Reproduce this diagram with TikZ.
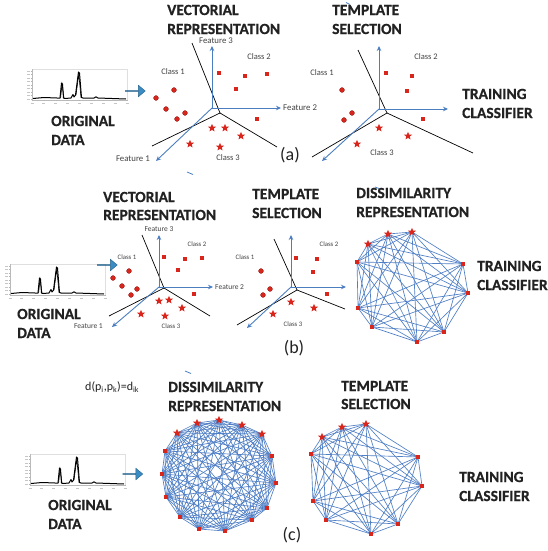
\documentclass[tikz,border=0pt]{standalone}
\usepackage{fontspec}
\setmainfont{Carlito}
\newfontfamily\headfont[FakeBold=0.6]{Carlito Bold}
\usetikzlibrary{shapes.geometric,shapes.arrows,arrows.meta}

\definecolor{mred}{HTML}{D9261C}
\definecolor{axblue}{HTML}{4A7EC0}
\definecolor{edgeblue}{HTML}{4F7FC6}
\definecolor{arrfill}{HTML}{3A8CC4}
\definecolor{ink}{HTML}{222222}

\tikzset{
  head/.style={font=\fontsize{15.5}{15.5}\selectfont\headfont, text=ink, anchor=west, inner sep=0pt},
  clsA/.style={font=\fontsize{8.5}{9}\selectfont, text=ink!85, inner sep=0pt},
  clsB/.style={font=\fontsize{6.8}{7}\selectfont, text=ink!85, inner sep=0pt},
  featA/.style={font=\fontsize{8.8}{9}\selectfont, text=ink!85, inner sep=0pt},
  featB/.style={font=\fontsize{7.5}{8}\selectfont, text=ink!85, inner sep=0pt},
  panel/.style={font=\fontsize{18}{18}\selectfont, text=ink, inner sep=0pt},
  circ/.style={circle, fill=mred, draw=mred!70!black, line width=0.4pt, inner sep=0pt, minimum size=4.8pt},
  sqr/.style={rectangle, fill=mred, inner sep=0pt, minimum size=4.8pt},
  str/.style={star, star points=5, star point ratio=2.3, fill=mred, inner sep=0pt, minimum size=8.5pt},
  axisline/.style={axblue, line width=0.9pt, -{Stealth[length=5pt,width=4.5pt]}},
  bound/.style={black, line width=0.7pt},
  edge/.style={edgeblue, line width=0.65pt},
  stray/.style={axblue, line width=0.8pt},
  fatarrow/.style={single arrow, single arrow tip angle=80, single arrow head extend=2.6pt,
    minimum width=11.5pt, minimum height=20pt, inner sep=0pt, fill=arrfill, draw=arrfill!70!black, line width=0.4pt},
  spectrum/.pic={
    % faint frame, axes and ticks of the small plot
    \draw[gray!25, line width=0.4pt] (0,0) rectangle (95,31);
    \draw[gray!55, line width=0.4pt] (0,0) -- (0,31) -- (95,31);
    \foreach \t in {2,5.5,...,30} {
      \draw[gray!60, line width=0.3pt] (-1.2,\t) -- (0,\t);
      \draw[gray!45, line width=0.5pt] (-5,\t) -- (-2.5,\t);
    }
    \foreach \t in {0,11.875,...,95} {
      \draw[gray!60, line width=0.3pt] (\t,31) -- (\t,32.2);
      \draw[gray!45, line width=0.5pt] (\t-1.5,34) -- (\t+1.5,34);
    }
    % signal
    \draw[black, line width=1pt, line join=round]
      (1,29.5) -- (12,28.5) -- (25,29) -- (28,29) -- (29.5,14) -- (30.5,15) -- (31.5,29)
      -- (33,29.5) -- (39,29) -- (41,25.5) -- (42,28) -- (43.5,26) -- (46.5,3) -- (47.5,4)
      -- (49.5,28.5) -- (51,29) -- (62,29) -- (64,27.8) -- (66,29) -- (94,30);
    \draw[black, line width=0.6pt] (28.6,29) -- (30,15) -- (32,29);
    \draw[black, line width=0.6pt] (44,26) -- (46.8,5) -- (49,28.5);
  }
}

\begin{document}
\begin{tikzpicture}[x=1pt,y=-1pt]
\useasboundingbox[fill=white] (0,0) rectangle (547,551);

%================ (a) ================
\pic at (32,69) {spectrum};
\node[fatarrow] (arrA) at (135,91) {};
\node[head] (origA1) at (51,121) {ORIGINAL};
\node[head] (origA2) at (51,140) {DATA};
\node[head] (vecA1) at (167,10) {VECTORIAL};
\node[head] (vecA2) at (167,29) {REPRESENTATION};

% feature space
\coordinate (oA) at (212,108);
\coordinate (f3A) at (212,46);
\coordinate (f2A) at (281,108);
\coordinate (f1A) at (156,161);
\coordinate (jA) at (220,113);
\coordinate (btA) at (192,43);
\coordinate (blA) at (152,146);
\coordinate (brA) at (277,147);
\draw[bound] (jA) -- (btA);
\draw[bound] (jA) -- (blA);
\draw[bound] (jA) -- (brA);
\draw[axisline] (oA) -- (f3A);
\draw[axisline] (oA) -- (f2A);
\draw[axisline] (oA) -- (f1A);
\node[featA] (lf3A) at (216,41) {Feature 3};
\node[featA, anchor=west] (lf2A) at (283,108) {Feature 2};
\node[featA, anchor=east] (lf1A) at (150,159) {Feature 1};
\node[clsA] (c1A) at (173,72) {Class 1};
\node[clsA] (c2A) at (259,57) {Class 2};
\node[clsA] (c3A) at (228,158) {Class 3};
\foreach \x/\y [count=\i] in {174/90,156/98,166/109,185/113,177/119}
  \node[circ] (pcA\i) at (\x,\y) {};
\foreach \x/\y [count=\i] in {219/73,245/76,267/74,236/89,257/119}
  \node[sqr] (psA\i) at (\x,\y) {};
\foreach \x/\y [count=\i] in {212/128,225/128,241/136,190/144,220/147}
  \node[str] (ptA\i) at (\x,\y) {};
\node[panel] (labA) at (290,155) {(a)};

% selected templates
\node[head] (tplA1) at (332,10) {TEMPLATE};
\node[head] (tplA2) at (332,29) {SELECTION};
\coordinate (oA2) at (379,109);
\coordinate (f3A2) at (379,46);
\coordinate (f2A2) at (448,109);
\coordinate (f1A2) at (322,161);
\coordinate (jA2) at (387,113);
\coordinate (btA2) at (358,50);
\coordinate (blA2) at (312,157);
\coordinate (brA2) at (473,153);
\draw[bound] (jA2) -- (btA2);
\draw[bound] (jA2) -- (blA2);
\draw[bound] (jA2) -- (brA2);
\draw[axisline] (oA2) -- (f3A2);
\draw[axisline] (oA2) -- (f2A2);
\draw[axisline] (oA2) -- (f1A2);
\node[clsA] (c1A2) at (322,73) {Class 1};
\node[clsA] (c2A2) at (426,57) {Class 2};
\node[clsA] (c3A2) at (382,153) {Class 3};
\foreach \x/\y [count=\i] in {342/90,352/113,344/120}
  \node[circ] (qcA\i) at (\x,\y) {};
\foreach \x/\y [count=\i] in {386/73,412/76,407/91,423/119}
  \node[sqr] (qsA\i) at (\x,\y) {};
\foreach \x/\y [count=\i] in {379/128,408/136,357/144}
  \node[str] (qtA\i) at (\x,\y) {};
\node[head] (trA1) at (462,94) {TRAINING};
\node[head] (trA2) at (462,113) {CLASSIFIER};

%================ (b) ================
\pic at (10,264) {spectrum};
\node[fatarrow] (arrB) at (107,265) {};
\node[head] (origB1) at (17,314) {ORIGINAL};
\node[head] (origB2) at (17,333) {DATA};
\node[head] (vecB1) at (103,197) {VECTORIAL};
\node[head] (vecB2) at (103,215) {REPRESENTATION};
\node[head] (tplB1) at (252,194) {TEMPLATE};
\node[head] (tplB2) at (252,213) {SELECTION};

\coordinate (oB) at (159,287);
\coordinate (f3B) at (159,235);
\coordinate (f2B) at (213,287);
\coordinate (f1B) at (112,327);
\coordinate (jB) at (164,288);
\coordinate (btB) at (142,235);
\coordinate (blB) at (109,316);
\coordinate (brB) at (210,316);
\draw[bound] (jB) -- (btB);
\draw[bound] (jB) -- (blB);
\draw[bound] (jB) -- (brB);
\draw[axisline] (oB) -- (f3B);
\draw[axisline] (oB) -- (f2B);
\draw[axisline] (oB) -- (f1B);
\node[featB] (lf3B) at (159,229) {Feature 3};
\node[featB, anchor=west] (lf2B) at (215,287) {Feature 2};
\node[featB, anchor=east] (lf1B) at (103,326) {Feature 1};
\node[clsB] (c1B) at (127,257) {Class 1};
\node[clsB] (c2B) at (197,244) {Class 2};
\node[clsB] (c3B) at (171,326) {Class 3};
\foreach \x/\y [count=\i] in {129/271,113/278,122/286,137/289,131/295}
  \node[circ] (pcB\i) at (\x,\y) {};
\foreach \x/\y [count=\i] in {164/257,185/259,202/258,178/270,194/294}
  \node[sqr] (psB\i) at (\x,\y) {};
\foreach \x/\y [count=\i] in {159/301,169/300,182/308,141/314,165/316}
  \node[str] (ptB\i) at (\x,\y) {};

\coordinate (oB2) at (291,287);
\coordinate (f3B2) at (291,235);
\coordinate (f2B2) at (346,287);
\coordinate (f1B2) at (247,328);
\coordinate (jB2) at (297,290);
\coordinate (btB2) at (274,239);
\coordinate (blB2) at (237,325);
\coordinate (brB2) at (345,309);
\draw[bound] (jB2) -- (btB2);
\draw[bound] (jB2) -- (blB2);
\draw[bound] (jB2) -- (brB2);
\draw[axisline] (oB2) -- (f3B2);
\draw[axisline] (oB2) -- (f2B2);
\draw[axisline] (oB2) -- (f1B2);
\node[clsB] (c1B2) at (245,257) {Class 1};
\node[clsB] (c2B2) at (329,244) {Class 2};
\node[clsB] (c3B2) at (293,324) {Class 3};
\foreach \x/\y [count=\i] in {261/271,270/289,263/295}
  \node[circ] (qcB\i) at (\x,\y) {};
\foreach \x/\y [count=\i] in {296/258,317/259,313/272,327/294}
  \node[sqr] (qsB\i) at (\x,\y) {};
\foreach \x/\y [count=\i] in {291/302,314/308,273/314}
  \node[str] (qtB\i) at (\x,\y) {};
\node[panel] (labB) at (294,348) {(b)};

% dissimilarity graph of the templates
\node[head] (disB1) at (356,193) {DISSIMILARITY};
\node[head] (disB2) at (356,212) {REPRESENTATION};
\foreach \x/\y [count=\i] in {368/244,388/234,412/232,463/264,468/293,444/332,417/342,372/327,358/308,357/262}
  \coordinate (gb\i) at (\x,\y);
\foreach \i in {1,...,9}{
  \pgfmathtruncatemacro\nx{\i+1}
  \foreach \j in {\nx,...,10} \draw[edge] (gb\i) -- (gb\j);
}
\foreach \i in {1,2,3} \node[str] (sgb\i) at (gb\i) {};
\foreach \i in {4,...,10} \node[sqr] (qgb\i) at (gb\i) {};
\node[head] (trB1) at (477,266) {TRAINING};
\node[head] (trB2) at (477,285) {CLASSIFIER};

%================ (c) ================
\node[font=\fontsize{12}{12}\selectfont, text=ink, anchor=west, inner sep=0pt] (dik) at (85,387)
  {d(p\textsubscript{i},p\textsubscript{k})=d\textsubscript{ik}};
\node[head] (disC1) at (168,387) {DISSIMILARITY};
\node[head] (disC2) at (168,406) {REPRESENTATION};
\pic at (30,454) {spectrum};
\node[fatarrow] (arrC) at (132.5,474) {};
\node[head] (origC1) at (48,505) {ORIGINAL};
\node[head] (origC2) at (48,524) {DATA};

% full dissimilarity graph
\foreach \x/\y [count=\i] in {177/433,197/423,219/420,242/425,262/434,272/456,276/483,267/508,252/520,225/531,199/529,180/517,166/497,162/474,165/451}
  \coordinate (gc\i) at (\x,\y);
\foreach \i in {1,...,14}{
  \pgfmathtruncatemacro\nx{\i+1}
  \foreach \j in {\nx,...,15} \draw[edge] (gc\i) -- (gc\j);
}
\foreach \i in {1,...,5} \node[str] (sgc\i) at (gc\i) {};
\foreach \i in {6,...,15} \node[sqr] (qgc\i) at (gc\i) {};
\node[panel] (labC) at (292,535) {(c)};

% graph restricted to the templates
\node[head] (tplC1) at (341,386) {TEMPLATE};
\node[head] (tplC2) at (341,404) {SELECTION};
\foreach \x/\y [count=\i] in {322/437,342/427,366/424,418/457,422/486,398/524,371/534,326/520,313/501,311/454}
  \coordinate (gd\i) at (\x,\y);
\foreach \i in {1,...,9}{
  \pgfmathtruncatemacro\nx{\i+1}
  \foreach \j in {\nx,...,10} \draw[edge] (gd\i) -- (gd\j);
}
\foreach \i in {1,2,3} \node[str] (sgd\i) at (gd\i) {};
\foreach \i in {4,...,10} \node[sqr] (qgd\i) at (gd\i) {};
\node[head] (trC1) at (459,477) {TRAINING};
\node[head] (trC2) at (459,496) {CLASSIFIER};

% small stray blue strokes
\coordinate (sk1a) at (187,172); \coordinate (sk1b) at (193,174.5);
\coordinate (sk2a) at (185,371); \coordinate (sk2b) at (191,373.5);
\coordinate (sk3a) at (346,2.5); \coordinate (sk3b) at (350,4.5);
\coordinate (sk4a) at (375,187); \coordinate (sk4b) at (379,188.5);
\draw[stray] (sk1a) -- (sk1b);
\draw[stray] (sk2a) -- (sk2b);
\draw[stray] (sk3a) -- (sk3b);
\draw[stray] (sk4a) -- (sk4b);
\end{tikzpicture}
\end{document}
